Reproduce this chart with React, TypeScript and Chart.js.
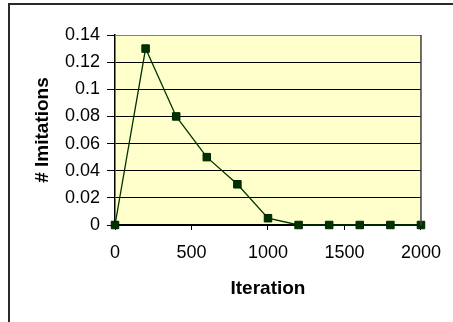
import React, { useEffect, useRef } from "react";
import { Chart, registerables } from "chart.js";

Chart.register(...registerables);

const iterations = [0, 200, 400, 600, 800, 1000, 1200, 1400, 1600, 1800, 2000];
const imitations = [0, 0.13, 0.08, 0.05, 0.03, 0.005, 0, 0, 0, 0, 0];
const xTickValues = [0, 500, 1000, 1500, 2000];
const xTickLabels = ["0", "500", "1000", "1500", "2000"];
const yTickValues = [0, 0.02, 0.04, 0.06, 0.08, 0.1, 0.12, 0.14];
const yTickLabels = ["0", "0.02", "0.04", "0.06", "0.08", "0.1", "0.12", "0.14"];

const FONT = "'Liberation Sans', Arial, sans-serif";

const framePlugin = {
  id: "frame",
  beforeDraw(chart: any) {
    const { ctx, chartArea: a } = chart;
    ctx.save();
    ctx.fillStyle = "#FFFFCC";
    ctx.fillRect(a.left, a.top, a.right - a.left, a.bottom - a.top);
    ctx.strokeStyle = "#2a2a2a";
    ctx.lineWidth = 2;
    ctx.strokeRect(9, 4, 600, 500);
    ctx.restore();
  },
  afterDatasetsDraw(chart: any) {
    const { ctx, chartArea: a } = chart;
    ctx.save();
    ctx.strokeStyle = "#808080";
    ctx.lineWidth = 1;
    ctx.beginPath();
    ctx.moveTo(a.left, a.top + 0.5);
    ctx.lineTo(a.right + 0.5, a.top + 0.5);
    ctx.stroke();
    ctx.strokeStyle = "#404040";
    ctx.lineWidth = 1.5;
    ctx.beginPath();
    ctx.moveTo(a.right, a.top);
    ctx.lineTo(a.right, a.bottom);
    ctx.stroke();
    ctx.restore();
  },
};

export default function App() {
  const ref = useRef<HTMLCanvasElement | null>(null);
  useEffect(() => {
    if (!ref.current) return;
    const chart = new Chart(ref.current, {
      type: "scatter",
      data: {
        datasets: [
          {
            data: iterations.map((x, i) => ({ x, y: imitations[i] })),
            showLine: true,
            borderColor: "#003300",
            backgroundColor: "#003300",
            borderWidth: 1.3,
            pointStyle: "rect",
            pointRadius: 5.3,
            pointBorderWidth: 1,
            pointBorderColor: "#002200",
            pointBackgroundColor: "#003300",
            clip: false,
          } as any,
        ],
      },
      options: {
        animation: false,
        responsive: false,
        events: [],
        layout: { padding: { left: 20, right: 32, top: 35, bottom: 0 } },
        plugins: { legend: { display: false }, tooltip: { enabled: false } },
        scales: {
          x: {
            type: "linear",
            min: 0,
            max: 2000,
            afterBuildTicks: (s: any) => {
              s.ticks = xTickValues.map((v) => ({ value: v }));
            },
            afterFit: (s: any) => {
              s.height = 97;
            },
            ticks: {
              color: "#000",
              font: { family: FONT, size: 18 },
              padding: 12,
              maxRotation: 0,
              autoSkip: false,
              callback: (v: any) => xTickLabels[xTickValues.indexOf(Number(v))] ?? "",
            },
            grid: {
              drawOnChartArea: false,
              drawTicks: true,
              tickLength: 5,
              color: "#000",
            },
            border: { display: true, color: "#000", width: 1.5 },
            title: {
              display: true,
              text: "Iteration",
              color: "#000",
              font: { family: FONT, size: 19, weight: "bold" },
              padding: { top: 0, bottom: 22 },
            },
          },
          y: {
            type: "linear",
            min: 0,
            max: 0.14,
            afterBuildTicks: (s: any) => {
              s.ticks = yTickValues.map((v) => ({ value: v }));
            },
            afterFit: (s: any) => {
              s.width = 95;
            },
            ticks: {
              color: "#000",
              font: { family: FONT, size: 18 },
              padding: 7,
              autoSkip: false,
              callback: (v: any, i: number) => yTickLabels[i] ?? "",
            },
            grid: {
              drawOnChartArea: true,
              drawTicks: true,
              tickLength: 8,
              color: "#000",
              lineWidth: 1,
            },
            border: { display: true, color: "#000", width: 1.5 },
            title: {
              display: true,
              text: "# Imitations",
              color: "#000",
              font: { family: FONT, size: 19, weight: "bold" },
              padding: { top: 11, bottom: 0 },
            },
          },
        },
      },
      plugins: [framePlugin],
    });
    return () => chart.destroy();
  }, []);
  return (
    <div style={{ position: "absolute", left: 0, top: 0, width: 453, height: 322, background: "#fff" }}>
      <canvas ref={ref} width={453} height={322} style={{ display: "block" }} />
    </div>
  );
}
